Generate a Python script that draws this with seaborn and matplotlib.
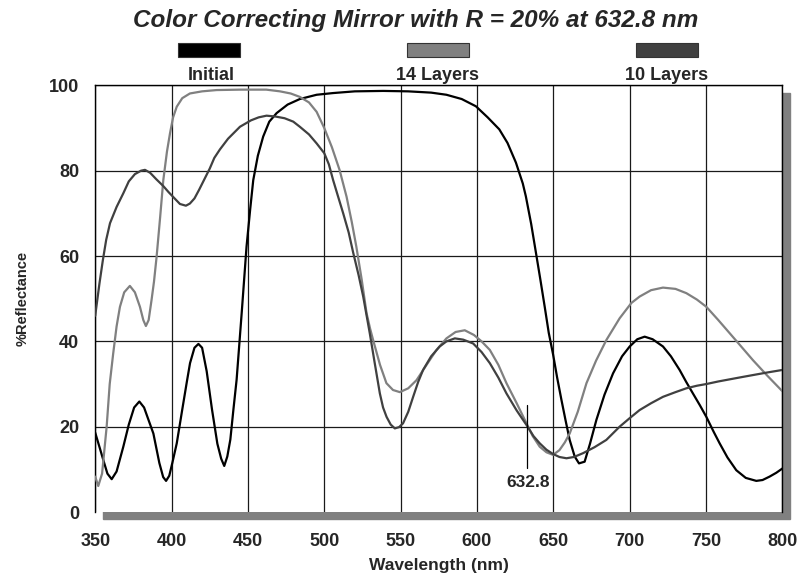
import pandas as pd
import seaborn as sns
import matplotlib
matplotlib.use("Agg")
import matplotlib.pyplot as plt
from matplotlib.patches import Rectangle

# wavelength (nm) / %reflectance
wl_initial = [350, 353, 355.3, 358, 360.8, 364, 368.4, 372, 375.5, 378.9, 382, 385, 388.1,
              392, 394.5, 396.4, 398.5, 400.5, 403.4, 407, 410, 412.1, 415, 417.6, 420,
              423, 426.5, 430, 432.5, 434.5, 436.5, 438.5, 440.5, 442.6, 446, 449.1, 451.5,
              453.5, 456.5, 460, 464, 468.8, 476, 484, 495, 505.8, 520, 538.6, 555, 570,
              580, 590, 599.3, 607, 614.6, 620, 625.5, 630, 632, 635.5, 638.6, 641.5, 644.4,
              647, 649.8, 652.5, 655.3, 658, 660.7, 664, 666.8, 670.5, 674, 678.2, 683.5,
              689.1, 695, 700, 705, 709.8, 715, 721.8, 727, 732.7, 737, 741.4, 746, 750.2,
              755, 758.9, 764, 769.8, 776, 782.9, 787, 791.6, 796, 800]
r_initial = [18.6, 15, 12.2, 9, 7.7, 9.5, 15.3, 20.5, 24.5, 25.9, 24.5, 21.5, 18.4,
             11.5, 8.2, 7.3, 8.5, 11.5, 16.1, 24, 30.5, 34.9, 38.5, 39.4, 38.5,
             33, 24, 16, 12.5, 10.8, 13, 17, 24, 31, 47, 62.2, 71,
             77.8, 83.5, 88, 91.5, 93.5, 95.5, 96.8, 97.8, 98.2, 98.6, 98.7, 98.6, 98.3,
             97.8, 96.8, 95.1, 92.5, 89.7, 86.5, 81.9, 77, 74, 67.5, 60.8, 54.5, 48,
             42, 37, 31.5, 26.3, 21.5, 16.9, 13, 11.4, 11.8, 16, 21.6, 27.5,
             32.5, 36.5, 38.8, 40.5, 41.1, 40.5, 38.8, 36.5, 33.3, 30.5, 27.8, 25, 22.3,
             18.8, 16.1, 12.8, 9.8, 8, 7.3, 7.5, 8.3, 9.2, 10.2]

wl_14 = [350, 352, 354.5, 357.5, 359.5, 361.8, 364, 366.2, 369, 372.7, 376, 379.3, 381.5,
         383.2, 385, 386.9, 388.5, 390.2, 392.5, 394.6, 397, 399, 401, 403.4, 407, 412,
         420, 429.5, 445, 462, 471, 478, 484, 490, 495, 500, 505, 510, 514.6, 518, 521,
         524.5, 527.7, 530, 532, 536.5, 540.7, 545, 549.5, 555, 560.4, 567, 573.5, 580,
         586, 592, 598, 603, 608.4, 614, 619.3, 626, 632.4, 636.5, 641.1, 645.5, 649.8,
         654, 657.5, 660.7, 666, 671.7, 678, 684.7, 693.4, 701.1, 706.5, 714, 721.8, 730,
         737.1, 744, 750.2, 758, 765.5, 773, 780.7, 790, 800]
r_14 = [8.3, 6.1, 9, 20, 30, 37.2, 43.5, 48.1, 51.5, 53, 51.5, 48.1, 45,
        43.6, 45, 49.7, 54, 59.8, 69, 77.8, 84.5, 88.8, 92.5, 95, 97, 98.1,
        98.6, 98.9, 99, 99, 98.6, 98.1, 97.3, 96, 93.8, 90, 85.5, 80.2, 73.9, 68, 62.2,
        54.5, 46.6, 43, 40.3, 34.5, 30.2, 28.6, 28.1, 29, 30.9, 34.5, 38, 40.7,
        42.2, 42.6, 41.5, 40, 38, 34.5, 30.2, 25.5, 20.8, 17.8, 15.3, 14, 13.4,
        14.5, 16.3, 18.4, 23.5, 30.2, 35.5, 40.3, 45.4, 49, 50.5, 52, 52.6, 52.3,
        51.3, 49.8, 48.1, 45, 41.9, 38.8, 35.6, 32, 28.3]

wl_10 = [350, 352.8, 355, 357.2, 359.7, 364, 368.4, 372, 376, 380, 382.6, 386, 390, 394.6,
         398, 402, 405.5, 409.4, 412, 415, 418, 420.8, 425, 428, 431.7, 437, 444.8, 452,
         457, 462.2, 468, 474, 479.7, 484, 490, 495, 500, 503, 505.8, 509, 512.4, 516,
         519, 522.5, 525.5, 529.8, 533, 536.4, 538.5, 540.8, 543.5, 546.2, 549, 551.6,
         555, 558.2, 561.5, 564.7, 570, 575.6, 580, 585.5, 591, 597.5, 603, 608.4, 614,
         619.3, 626, 632.8, 637, 641.1, 645.5, 649.8, 654, 658.6, 663.5, 669.5, 677,
         684.7, 693.4, 700, 706.5, 714, 721.8, 730, 737.1, 744, 750.2, 758, 765.5, 773,
         780.7, 790, 800]
r_10 = [46, 53.6, 59, 63.8, 67.7, 71.5, 74.7, 77.5, 79.2, 80, 80.2, 79.5, 78, 76.4,
        75, 73.5, 72.2, 71.8, 72.3, 73.5, 75.5, 77.5, 80.5, 83, 85, 87.5, 90.3, 91.8,
        92.5, 92.9, 92.7, 92.3, 91.5, 90.3, 88.5, 86.4, 84.1, 81.5, 77.8, 74, 70, 65.5,
        60.7, 55.5, 50.5, 41.9, 35, 27.8, 24.5, 22.3, 20.5, 19.6, 19.9, 20.8,
        23.5, 27, 30.5, 33.3, 36.5, 38.8, 40, 40.7, 40.4, 39.5, 37.5, 34.9, 31.5,
        27.8, 23.8, 20.2, 17.8, 16.1, 14.6, 13.6, 12.9, 12.6, 12.9, 13.8, 15.2,
        16.9, 20, 22, 23.9, 25.5, 27, 28.1, 29, 29.6, 30, 30.6, 31.1, 31.6,
        32.1, 32.7, 33.3]

labels = ["Initial", "14 Layers", "10 Layers"]
colors = ["#000000", "#808080", "#404040"]

df = pd.concat([
    pd.DataFrame({"wl": wl_initial, "R": r_initial, "design": "Initial"}),
    pd.DataFrame({"wl": wl_14, "R": r_14, "design": "14 Layers"}),
    pd.DataFrame({"wl": wl_10, "R": r_10, "design": "10 Layers"}),
])

sns.set_style("white")
plt.rcParams['font.family'] = ['Liberation Sans', 'DejaVu Sans']

fig = plt.figure(figsize=(8, 5.8), dpi=100)
ax = fig.add_axes([0.119, 0.1172, 0.859, 0.7356])

# drop shadow behind the plot frame
fig.add_artist(Rectangle((103 / 800, 1 - 519 / 580), 687 / 800, 426 / 580,
                         transform=fig.transFigure, color="#808080", zorder=-1))

sns.lineplot(data=df, x="wl", y="R", hue="design", hue_order=labels,
             palette=dict(zip(labels, colors)), estimator=None, sort=False,
             linewidth=1.6, legend=False, ax=ax, zorder=3)

ax.set_xlim(350, 800)
ax.set_ylim(0, 100)
ax.set_xticks(range(350, 801, 50))
ax.set_yticks(range(0, 101, 20))
ax.grid(True, color="#1a1a1a", linewidth=0.9)
ax.yaxis.get_gridlines()[0].set_visible(False)
for side in ["left", "top", "right"]:
    ax.spines[side].set_color("black")
    ax.spines[side].set_linewidth(1.0)
ax.spines["bottom"].set_visible(False)

ax.tick_params(axis="x", direction="inout", length=20, width=1, color="black",
               pad=5, labelsize=13)
ax.tick_params(axis="y", direction="inout", length=13, width=1, color="black",
               pad=5, labelsize=13)
for t in ax.get_xticklabels() + ax.get_yticklabels():
    t.set_fontweight("bold")

ax.set_xlabel("Wavelength (nm)", fontsize=12.5, fontweight="bold", labelpad=6)
ax.set_ylabel("%Reflectance", fontsize=10.5, fontweight="bold", labelpad=14)

# 632.8 nm marker
ax.plot([632.8, 632.8], [10.3, 25.2], color="black", linewidth=0.9, zorder=4)
ax.text(633.5, 7, "632.8", ha="center", va="center", fontsize=12.5,
        fontweight="bold", zorder=4)

fig.text(0.519, 0.9638, "Color Correcting Mirror with R = 20% at 632.8 nm",
         ha="center", va="center", fontsize=17.5, fontweight="bold", style="italic")

# legend swatches above the plot
legend_x = [178, 407, 636]
legend_cx = [211, 437, 667]
for x0, cx, lab, col in zip(legend_x, legend_cx, labels, colors):
    fig.add_artist(Rectangle((x0 / 800, 1 - 57 / 580), 62 / 800, 14 / 580,
                             transform=fig.transFigure, facecolor=col,
                             edgecolor="#333333", linewidth=0.8))
    fig.text(cx / 800, 1 - 75 / 580, lab, ha="center", va="center",
             fontsize=13, fontweight="bold")

plt.savefig("out.png", dpi=100)
